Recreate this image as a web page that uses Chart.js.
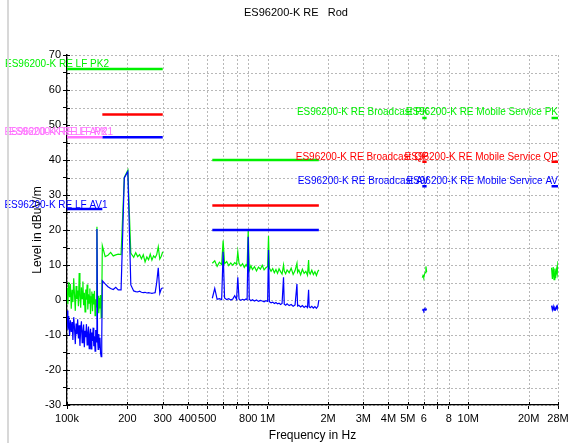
<!DOCTYPE html>
<html>
<head>
<meta charset="utf-8">
<title>ES96200-K RE Rod</title>
<script src="https://cdn.jsdelivr.net/npm/chart.js@4/dist/chart.umd.min.js"></script>
<style>
  body { margin: 0; background: #fff; }
  #wrap { position: relative; width: 581px; height: 443px; }
  #splitter { position: absolute; left: 7px; top: 0; width: 2px; height: 443px; background: #d8d8d8; }
</style>
</head>
<body>
<div id="wrap">
  <div id="splitter"></div>
  <canvas id="chart" width="581" height="443"></canvas>
</div>
<script>
// all frequencies in kHz

// 100k - 300k scan (LF + start of LW)
var lfFreq = [100, 101, 102, 103, 104, 105, 106, 107, 108, 109,
    110, 111, 112, 113, 114, 115, 116, 117, 118, 119,
    120, 121, 122, 123, 124, 125, 126, 127, 128, 129,
    130, 131, 132, 133, 134, 135, 136, 137, 138, 139,
    140, 141, 142, 143, 144, 145, 146, 147, 148, 149,
    150, 155, 160, 165, 170, 175, 180, 186, 193, 201,
    208, 215, 220, 225, 230, 235, 240, 245, 250, 255,
    260, 265, 270, 275, 280, 285, 290, 295, 300];
var lfPk = [3.4, -1.2, 5.1, 0.8, 4.6, -2.5, 2.9, -0.6, 6.2, 1.5,
    -3.1, 4.0, 0.3, 2.7, -1.8, 7.7, 1.1, -2.2, 3.6, 0.4,
    5.3, -1.5, 2.1, -3.4, 3.0, 0.1, 4.4, -2.7, 1.6, -0.9,
    3.3, -4.0, 0.9, 2.4, -3.2, 1.8, -1.3, 2.6, -4.5, 0.2,
    -2.0, 20.9, -1.6, 1.2, -3.8, 0.6, -2.4, 1.4, -5.0, -1.0,
    15.5, 12.4, 12.8, 13.6, 12.6, 12.9, 13.1, 13.0, 35.0, 37.1,
    13.4, 12.2, 13.5, 12.4, 13.0, 11.8, 12.9, 10.9, 12.3, 11.5,
    13.1, 11.4, 12.6, 12.1, 13.0, 15.2, 11.7, 12.5, 13.8];
var lfAv = [-3.0, -8.5, -4.6, -10.2, -5.8, -9.1, -6.3, -11.4, -4.9, -8.0,
    -12.6, -6.7, -9.8, -5.5, -11.0, -7.2, -13.1, -8.4, -6.1, -12.2,
    -9.0, -7.0, -13.5, -8.8, -10.6, -6.9, -12.8, -9.5, -7.6, -13.9,
    -10.1, -8.2, -14.0, -9.3, -11.7, -7.9, -13.2, -10.4, -14.6, -8.6,
    -12.0, 20.3, -11.2, -14.1, -9.7, -13.6, -10.8, -15.2, -16.2, -11.5,
    5.5, 4.6, 3.8, 3.3, 3.0, 3.6, 2.9, 2.9, 34.9, 36.7,
    4.3, 2.6, 2.4, 2.3, 2.5, 2.2, 2.1, 2.2, 2.0, 2.1,
    2.0, 1.9, 2.0, 2.1, 5.0, 9.2, 1.9, 3.2, 3.5];

// 530k - 1.8M scan (MW broadcast)
var mwFreq = [530, 545, 560, 575, 590, 600, 610, 625, 640, 655,
    670, 685, 700, 710, 720, 735, 750, 765, 780, 790,
    800, 810, 825, 840, 860, 880, 900, 920, 940, 960,
    980, 1000, 1010, 1020, 1040, 1060, 1080, 1100, 1120, 1140,
    1160, 1180, 1200, 1210, 1230, 1250, 1280, 1310, 1340, 1370,
    1400, 1410, 1430, 1460, 1490, 1520, 1550, 1580, 1600, 1610,
    1630, 1660, 1690, 1720, 1750, 1780, 1800];
var mwPk = [10.5, 11.2, 9.6, 10.8, 10.1, 17.0, 10.4, 11.0, 9.8, 10.6,
    9.9, 10.7, 10.2, 13.8, 10.5, 9.7, 10.4, 9.3, 10.1, 9.6,
    20.0, 8.4, 9.8, 8.7, 9.5, 8.3, 9.4, 8.8, 9.9, 8.6,
    9.2, 9.6, 18.3, 9.1, 8.2, 9.0, 7.8, 8.7, 7.6, 8.9,
    8.1, 7.4, 10.0, 8.3, 7.5, 8.6, 7.8, 9.1, 7.3, 8.4,
    10.5, 7.9, 8.6, 7.2, 8.8, 7.6, 8.2, 7.1, 11.4, 8.0,
    7.4, 8.5, 7.3, 8.1, 7.0, 8.2, 8.6];
var mwAv = [0.5, 3.3, 0.2, 0.4, 0.1, 13.8, 0.6, 0.1, 0.4, 0.0,
    0.3, 1.2, 0.2, 6.5, 0.3, -0.1, 0.2, 0.0, 0.3, 0.1,
    18.1, 0.2, -0.2, 0.1, -0.3, 0.0, -0.4, -0.1, -0.3, -0.5,
    -0.2, -0.4, 14.3, -0.5, -0.8, -0.6, -1.0, -0.7, -1.1, -0.9,
    -1.3, -1.0, 6.5, -1.2, -1.5, -1.1, -1.6, -1.3, -1.8, -1.4,
    4.6, -1.7, -1.5, -2.0, -1.6, -2.1, -1.7, -2.2, 2.9, -1.9,
    -2.2, -1.8, -2.3, -1.9, -2.4, -1.8, 0.0];

// 5.9M - 6.2M scan (SW broadcast)
var swFreq = [5900, 5950, 6000, 6050, 6100, 6150, 6200];
var swPk = [6.4, 7.0, 6.6, 7.4, 7.8, 9.6, 8.0];
var swAv = [-3.0, -2.7, -3.1, -2.6, -2.9, -2.5, -2.8];

// 26M - 28M scan (CB mobile service)
var cbFreq = [26000, 26250, 26500, 26750, 27000, 27250, 27500, 27750, 28000];
var cbPk = [9.2, 6.0, 9.4, 5.8, 9.0, 6.2, 8.8, 7.5, 11.1];
var cbAv = [-1.6, -2.8, -1.8, -2.9, -2.2, -2.7, -1.9, -2.6, -1.3];

// limit lines, [start kHz, end kHz, dBuV/m]
var limitLfPk2 = [100, 300, 66];
var limitLfQp = [150, 300, 53];
var limitLfAv2 = [100, 150, 46.5];
var limitLfAv = [150, 300, 46.5];
var limitLfAv1 = [100, 150, 26];
var limitMwPk = [530, 1800, 40];
var limitMwQp = [530, 1800, 27];
var limitMwAv = [530, 1800, 20];
var limitSwPk = [5900, 6200, 52];
var limitSwQp = [5900, 6200, 39.5];
var limitSwAv = [5900, 6200, 32.5];
var limitCbPk = [26000, 28000, 52];
var limitCbQp = [26000, 28000, 39.5];
var limitCbAv = [26000, 28000, 32.5];

var xTickValues = [100, 200, 300, 400, 500, 600, 700, 800, 1000, 2000,
    3000, 4000, 5000, 6000, 7000, 8000, 10000, 20000, 28000];
var xTickLabels = ['100k', '200', '300', '400', '500', '', '', '800', '1M', '2M',
    '3M', '4M', '5M', '6', '', '8', '10M', '20M', '28M'];

var GREEN = '#00f000';
var RED = '#ff0000';
var BLUE = '#0000ff';
var PINK = '#ff70ff';
var GRID = '#b8b8b8';

function toPoints(freq, vals) {
    var pts = [];
    for (var i = 0; i < freq.length; i++) {
        pts.push({x: freq[i], y: vals[i]});
    }
    return pts;
}

function joinBands(bands) {
    // a null point between bands breaks the line
    var out = [];
    for (var i = 0; i < bands.length; i++) {
        if (i > 0) {
            out.push({x: bands[i][0].x, y: null});
        }
        out = out.concat(bands[i]);
    }
    return out;
}

function limitSet(lim, color) {
    return {
        data: [{x: lim[0], y: lim[2]}, {x: lim[1], y: lim[2]}],
        borderColor: color,
        borderWidth: 2.5,
        pointRadius: 0,
        fill: false
    };
}

function traceSet(points, color) {
    return {
        data: points,
        borderColor: color,
        borderWidth: 1.2,
        pointRadius: 0,
        spanGaps: false,
        fill: false
    };
}

// text labels, anchored to data values of the limit lines
var limitLabels = [
    {text: 'ES96200-K RE LF PK2', color: GREEN, x: 100, y: 66, align: 'center', dx: -10, dy: -5},
    {text: 'ES96200-K RE LF AV2', color: PINK, x: 100, y: 46.5, align: 'center', dx: -11, dy: -5},
    {text: 'ES96200-K RE LF PK1', color: PINK, x: 100, y: 46.5, align: 'center', dx: -6, dy: -5},
    {text: 'ES96200-K RE LF AV1', color: BLUE, x: 100, y: 26, align: 'center', dx: -11, dy: -4},
    {text: 'ES96200-K RE Broadcast PK', color: GREEN, x: 6200, y: 52, align: 'right', dx: 2, dy: -6},
    {text: 'ES96200-K RE Broadcast QP', color: RED, x: 6200, y: 39.5, align: 'right', dx: 2, dy: -5},
    {text: 'ES96200-K RE Broadcast AV', color: BLUE, x: 6200, y: 32.5, align: 'right', dx: 2, dy: -5},
    {text: 'ES96200-K RE Mobile Service PK', color: GREEN, x: 28000, y: 52, align: 'right', dx: 0, dy: -6},
    {text: 'ES96200-K RE Mobile Service QP', color: RED, x: 28000, y: 39.5, align: 'right', dx: 0, dy: -5},
    {text: 'ES96200-K RE Mobile Service AV', color: BLUE, x: 28000, y: 32.5, align: 'right', dx: 0, dy: -5}
];

// dotted grid, drawn by hand at the scale ticks
var gridPlugin = {
    id: 'dottedGrid',
    beforeDatasetsDraw: function(chart) {
        var ctx = chart.ctx;
        var area = chart.chartArea;
        var xs = chart.scales.x;
        var ys = chart.scales.y;
        ctx.save();
        ctx.strokeStyle = GRID;
        ctx.lineWidth = 1;
        ctx.setLineDash([2, 2]);
        ctx.beginPath();
        xs.ticks.forEach(function(t) {
            var px = Math.round(xs.getPixelForValue(t.value)) + 0.5;
            ctx.moveTo(px, area.top);
            ctx.lineTo(px, area.bottom);
        });
        ys.ticks.forEach(function(t) {
            var py = Math.round(ys.getPixelForValue(t.value)) + 0.5;
            ctx.moveTo(area.left, py);
            ctx.lineTo(area.right, py);
        });
        ctx.stroke();
        // short inner part of the axis tick marks
        ctx.setLineDash([]);
        ctx.strokeStyle = '#000';
        ctx.beginPath();
        xs.ticks.forEach(function(t) {
            var px = Math.round(xs.getPixelForValue(t.value)) + 0.5;
            ctx.moveTo(px, area.bottom);
            ctx.lineTo(px, area.bottom - 3);
        });
        ys.ticks.forEach(function(t) {
            var py = Math.round(ys.getPixelForValue(t.value)) + 0.5;
            ctx.moveTo(area.left, py);
            ctx.lineTo(area.left + 3, py);
        });
        ctx.stroke();
        ctx.restore();
    }
};

var labelPlugin = {
    id: 'limitLabels',
    afterDatasetsDraw: function(chart) {
        var ctx = chart.ctx;
        var xs = chart.scales.x;
        var ys = chart.scales.y;
        ctx.save();
        ctx.font = '10px "Liberation Sans", Arial, sans-serif';
        ctx.textBaseline = 'middle';
        limitLabels.forEach(function(l) {
            ctx.fillStyle = l.color;
            ctx.textAlign = l.align;
            ctx.fillText(l.text, xs.getPixelForValue(l.x) + l.dx, ys.getPixelForValue(l.y) + l.dy);
        });
        // page title
        ctx.fillStyle = '#000';
        ctx.textAlign = 'center';
        ctx.font = '11px "Liberation Sans", Arial, sans-serif';
        ctx.fillText('ES96200-K RE   Rod', 296, 13);
        ctx.restore();
    }
};

var tickFont = {family: '"Liberation Sans", Arial, sans-serif', size: 11};

var chart = new Chart(document.getElementById('chart'), {
    type: 'line',
    data: {
        datasets: [
            limitSet(limitLfPk2, GREEN),
            limitSet(limitLfQp, RED),
            limitSet(limitLfAv2, PINK),
            limitSet(limitLfAv, BLUE),
            limitSet(limitLfAv1, BLUE),
            limitSet(limitMwPk, GREEN),
            limitSet(limitMwQp, RED),
            limitSet(limitMwAv, BLUE),
            limitSet(limitSwPk, GREEN),
            limitSet(limitSwQp, RED),
            limitSet(limitSwAv, BLUE),
            limitSet(limitCbPk, GREEN),
            limitSet(limitCbQp, RED),
            limitSet(limitCbAv, BLUE),
            traceSet(joinBands([toPoints(lfFreq, lfAv), toPoints(mwFreq, mwAv),
                toPoints(swFreq, swAv), toPoints(cbFreq, cbAv)]), BLUE),
            traceSet(joinBands([toPoints(lfFreq, lfPk), toPoints(mwFreq, mwPk),
                toPoints(swFreq, swPk), toPoints(cbFreq, cbPk)]), GREEN)
        ]
    },
    options: {
        responsive: false,
        animation: false,
        layout: {padding: {top: 55, right: 23, left: 0, bottom: 0}},
        elements: {line: {tension: 0}},
        plugins: {
            legend: {display: false},
            tooltip: {enabled: false},
            title: {display: false}
        },
        scales: {
            x: {
                type: 'logarithmic',
                min: 100,
                max: 28000,
                afterBuildTicks: function(scale) {
                    scale.ticks = xTickValues.map(function(v) { return {value: v}; });
                },
                afterFit: function(scale) { scale.height = 38; },
                ticks: {
                    autoSkip: false,
                    maxRotation: 0,
                    padding: 3,
                    color: '#000',
                    font: tickFont,
                    callback: function(value) {
                        var i = xTickValues.indexOf(value);
                        return i < 0 ? '' : xTickLabels[i];
                    }
                },
                grid: {drawOnChartArea: false, color: '#000', tickLength: 4},
                border: {color: '#000', width: 1.5},
                title: {display: true, text: 'Frequency in Hz', color: '#000',
                    font: {family: '"Liberation Sans", Arial, sans-serif', size: 12},
                    padding: {top: 0, bottom: 0}}
            },
            y: {
                min: -30,
                max: 70,
                afterFit: function(scale) { scale.width = 67; },
                ticks: {
                    stepSize: 5,
                    autoSkip: false,
                    padding: 2,
                    color: '#000',
                    font: tickFont,
                    callback: function(value) {
                        return value % 10 === 0 ? String(value) : '';
                    }
                },
                grid: {drawOnChartArea: false, color: '#000', tickLength: 4},
                border: {color: '#000', width: 1.5},
                title: {display: true, text: 'Level in dBuV/m', color: '#000',
                    font: {family: '"Liberation Sans", Arial, sans-serif', size: 12},
                    padding: {top: 30, bottom: 0}}
            }
        }
    },
    plugins: [gridPlugin, labelPlugin]
});
</script>
</body>
</html>
